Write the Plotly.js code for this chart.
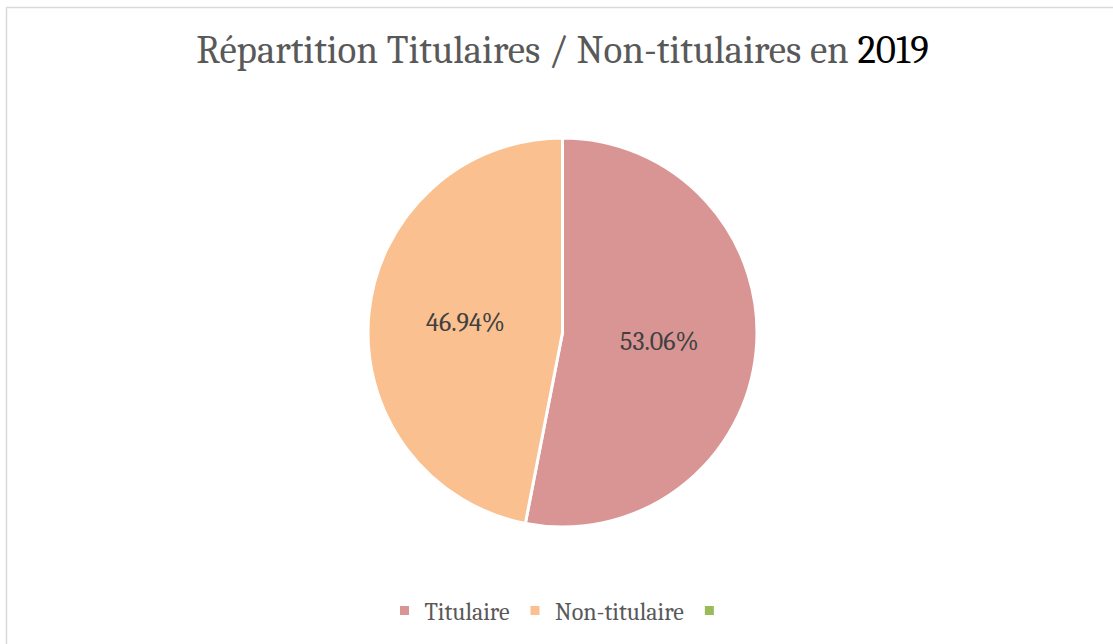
<!DOCTYPE html>
<html>
<head>
<meta charset="utf-8">
<script src="https://cdn.plot.ly/plotly-3.0.1.min.js"></script>
<style>html,body{margin:0;padding:0;background:#fff;}#chart{width:1113px;height:644px;}</style>
</head>
<body>
<div id="chart"></div>
<script>
var labels = ["Titulaire", "Non-titulaire", " "];
var values = [53.06, 46.94, 0];
var colors = ["#D99594", "#FAC090", "#9BBB59"];
var titleText = "Répartition Titulaires / Non-titulaires en ";
var titleYear = "2019";

var font = "Cambria, Caladea, 'Liberation Serif', serif";

var W = 1113, H = 644, ml = 12, mr = 0, mt = 138, mb = 117;
var ph = H - mt - mb, pw = W - ml - mr;
function px(x){ return (x - ml) / pw; }
function py(y){ return (H - mb - y) / ph; }

var trace = {
  type: "pie",
  labels: labels,
  values: values,
  sort: false,
  direction: "clockwise",
  rotation: 0,
  marker: {colors: colors, line: {color: "#ffffff", width: 3}},
  texttemplate: "%{percent:.2%}",
  textposition: "inside",
  insidetextorientation: "horizontal",
  textfont: {family: font, size: 26, color: "#404040"},
  hoverinfo: "label+percent",
  showlegend: true
};

var layout = {
  width: W, height: H,
  margin: {l: ml, r: mr, t: mt, b: mb},
  paper_bgcolor: "#ffffff",
  title: {
    text: titleText + "<span style='color:#000000'>" + titleYear + "</span>",
    font: {family: font, size: 39, color: "#595959"},
    x: 0.5, xref: "paper", xanchor: "center",
    y: (H - 49) / H, yref: "container", yanchor: "middle"
  },
  showlegend: true,
  legend: {
    orientation: "h",
    x: 0.5, xref: "paper", xanchor: "center",
    y: (H - 611) / H, yref: "container", yanchor: "middle",
    font: {family: font, size: 24, color: "#595959"},
    itemwidth: 30,
    traceorder: "normal"
  },
  shapes: [
    {type: "line", xref: "paper", yref: "paper", x0: px(6.5), x1: px(6.5), y0: py(7), y1: py(660), line: {color: "#D9D9D9", width: 1.5}},
    {type: "line", xref: "paper", yref: "paper", x0: px(6), x1: px(1130), y0: py(7.5), y1: py(7.5), line: {color: "#D9D9D9", width: 1.5}}
  ]
};

Plotly.newPlot("chart", [trace], layout, {displayModeBar: false, staticPlot: true});
</script>
</body>
</html>
